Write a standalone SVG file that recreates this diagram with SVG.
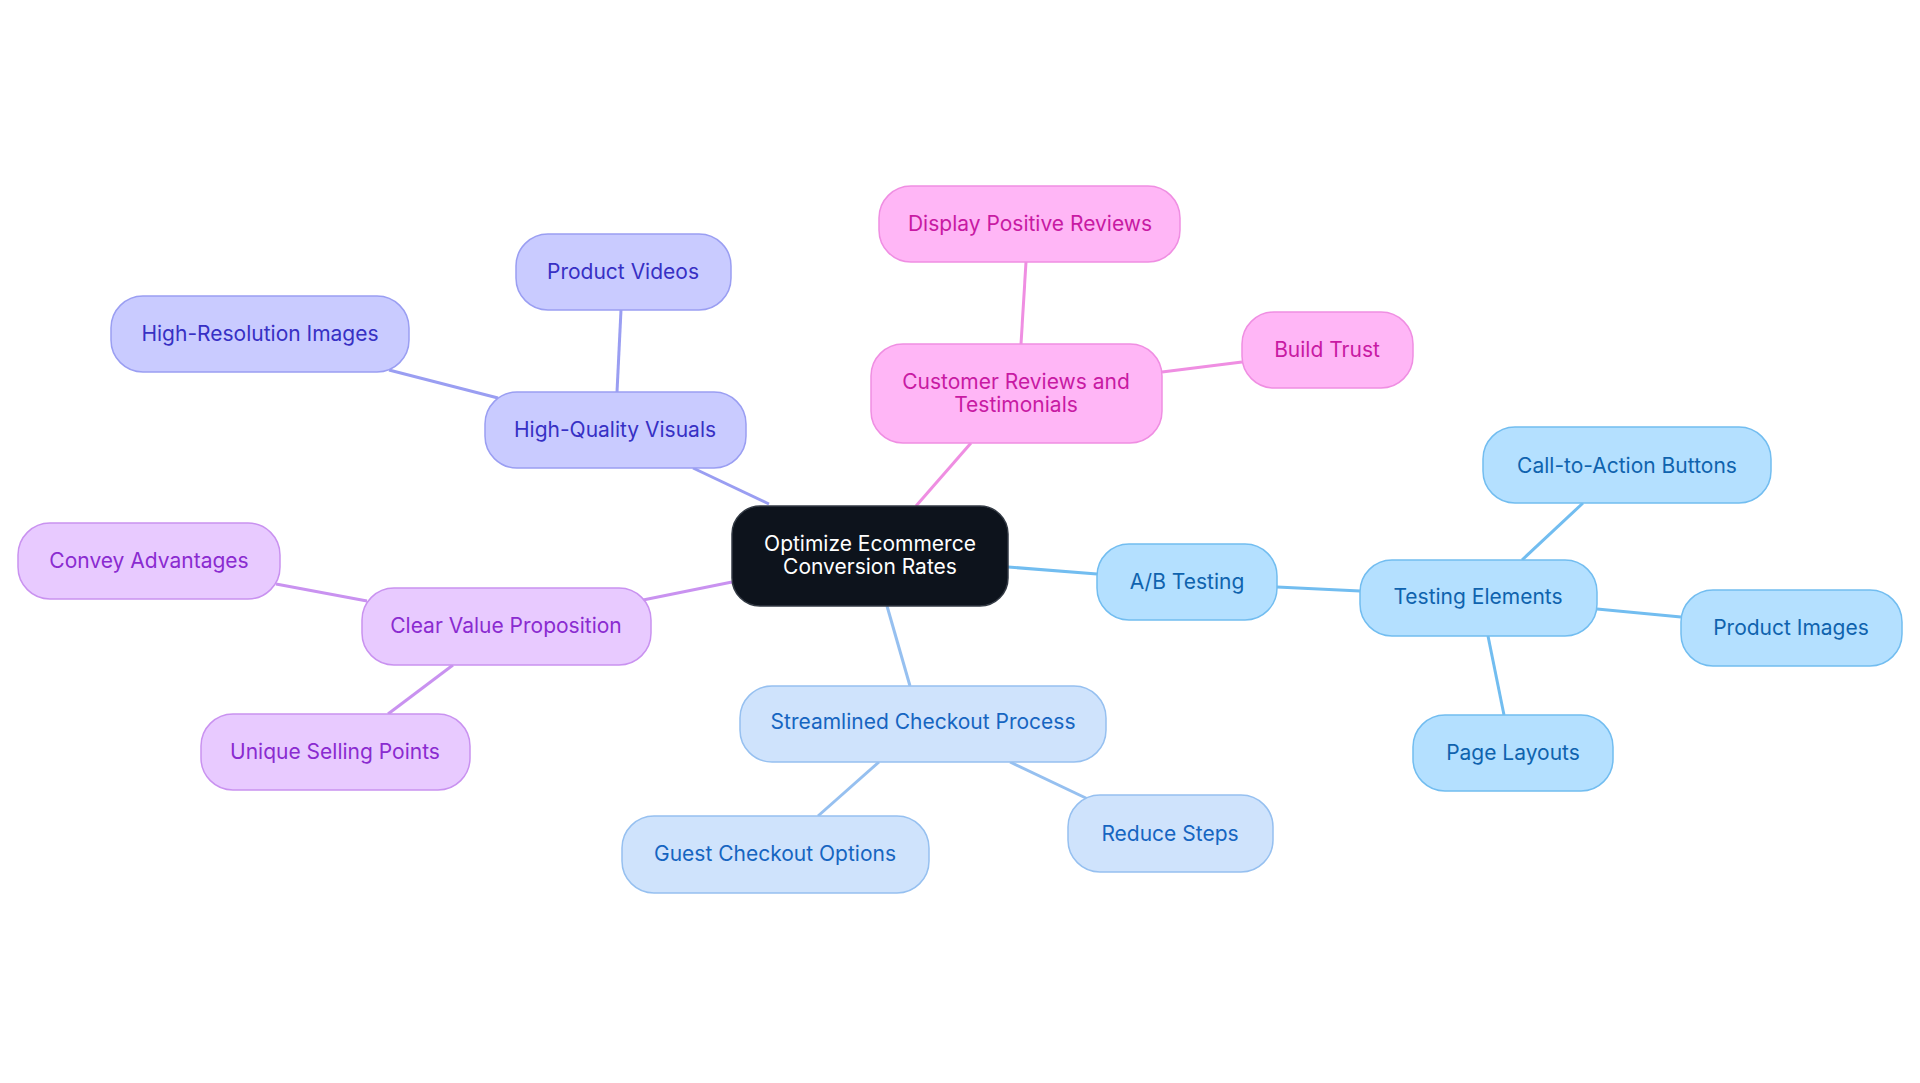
<svg xmlns="http://www.w3.org/2000/svg" width="1920" height="1083" viewBox="0 0 1920 1083">
<style>
text{font-family:Inter,"Noto Sans",sans-serif;font-size:21px;text-anchor:middle;dominant-baseline:central}
.c rect{fill:#0d131c;stroke:#333a44;stroke-width:1.5}.c text{fill:#fff}
.v rect{fill:#c9cbff;stroke:#9a9ef2;stroke-width:1.5}.v text{fill:#3730c4}
.p rect{fill:#ffb6f6;stroke:#ef8ee2;stroke-width:1.5}.p text{fill:#c81aa3}
.a rect{fill:#b4e0ff;stroke:#72bdf0;stroke-width:1.5}.a text{fill:#0f63ae}
.s rect{fill:#cfe3fc;stroke:#96c0f0;stroke-width:1.5}.s text{fill:#1665c1}
.u rect{fill:#e8caff;stroke:#c992f0;stroke-width:1.5}.u text{fill:#8a2bd0}
#edges line{stroke-width:3}
</style>
<g id="edges">
<g stroke="#9a9ef2"><line x1="769" y1="504" x2="693" y2="468"/><line x1="617" y1="392" x2="621" y2="310"/><line x1="498" y1="398" x2="389" y2="370"/></g>
<g stroke="#ef8ee2"><line x1="916" y1="506" x2="971" y2="443"/><line x1="1021" y1="344" x2="1026" y2="262"/><line x1="1162" y1="372" x2="1242" y2="362"/></g>
<g stroke="#72bdf0"><line x1="1008" y1="567" x2="1097" y2="574"/><line x1="1277" y1="587" x2="1360" y2="591"/><line x1="1522" y1="560" x2="1583" y2="503"/><line x1="1597" y1="609" x2="1681" y2="617"/><line x1="1488" y1="636" x2="1504" y2="715"/></g>
<g stroke="#96c0f0"><line x1="887" y1="606" x2="910" y2="686"/><line x1="879" y1="762" x2="818" y2="816"/><line x1="1010" y1="762" x2="1090" y2="800"/></g>
<g stroke="#c992f0"><line x1="732" y1="582" x2="643" y2="600"/><line x1="367" y1="601" x2="276" y2="584"/><line x1="453" y1="665" x2="388" y2="714"/></g>
</g>
<g id="center" class="c"><rect x="732" y="506" width="276" height="100" rx="28"/><text x="870" y="543">Optimize Ecommerce</text><text x="870" y="566">Conversion Rates</text></g>
<g id="hqv" class="v"><rect x="485" y="392" width="261" height="76" rx="32"/><text x="615" y="429">High-Quality Visuals</text></g>
<g id="pv" class="v"><rect x="516" y="234" width="215" height="76" rx="32"/><text x="623" y="271">Product Videos</text></g>
<g id="hri" class="v"><rect x="111" y="296" width="298" height="76" rx="32"/><text x="260" y="333">High-Resolution Images</text></g>
<g id="cr" class="p"><rect x="871" y="344" width="291" height="99" rx="32"/><text x="1016" y="381">Customer Reviews and</text><text x="1016" y="404">Testimonials</text></g>
<g id="dpr" class="p"><rect x="879" y="186" width="301" height="76" rx="32"/><text x="1030" y="223">Display Positive Reviews</text></g>
<g id="bt" class="p"><rect x="1242" y="312" width="171" height="76" rx="32"/><text x="1327" y="349">Build Trust</text></g>
<g id="ab" class="a"><rect x="1097" y="544" width="180" height="76" rx="32"/><text x="1187" y="581">A/B Testing</text></g>
<g id="te" class="a"><rect x="1360" y="560" width="237" height="76" rx="32"/><text x="1478" y="596">Testing Elements</text></g>
<g id="cta" class="a"><rect x="1483" y="427" width="288" height="76" rx="32"/><text x="1627" y="465">Call-to-Action Buttons</text></g>
<g id="pi" class="a"><rect x="1681" y="590" width="221" height="76" rx="32"/><text x="1791" y="627">Product Images</text></g>
<g id="pl" class="a"><rect x="1413" y="715" width="200" height="76" rx="32"/><text x="1513" y="752">Page Layouts</text></g>
<g id="sc" class="s"><rect x="740" y="686" width="366" height="76" rx="32"/><text x="923" y="721">Streamlined Checkout Process</text></g>
<g id="gc" class="s"><rect x="622" y="816" width="307" height="77" rx="32"/><text x="775" y="853">Guest Checkout Options</text></g>
<g id="rs" class="s"><rect x="1068" y="795" width="205" height="77" rx="32"/><text x="1170" y="833">Reduce Steps</text></g>
<g id="cv" class="u"><rect x="362" y="588" width="289" height="77" rx="32"/><text x="506" y="625">Clear Value Proposition</text></g>
<g id="ca" class="u"><rect x="18" y="523" width="262" height="76" rx="32"/><text x="149" y="560">Convey Advantages</text></g>
<g id="usp" class="u"><rect x="201" y="714" width="269" height="76" rx="32"/><text x="335" y="751">Unique Selling Points</text></g>
</svg>
